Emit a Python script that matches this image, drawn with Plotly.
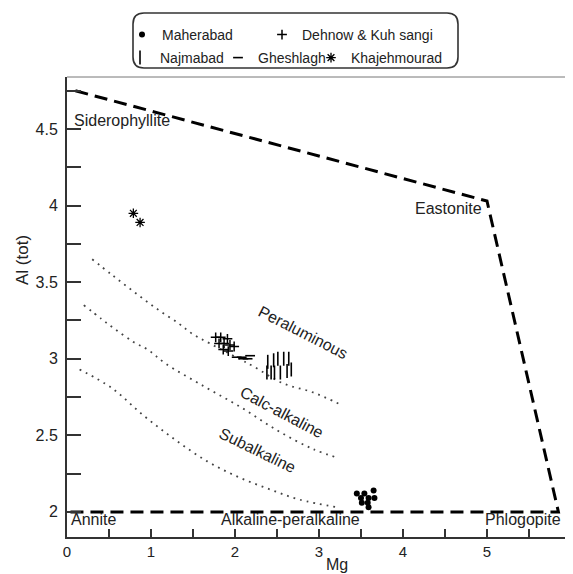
import plotly.graph_objects as go

# ---------------- data ----------------
maherabad_mg = [3.45, 3.54, 3.65, 3.50, 3.59, 3.66, 3.51, 3.58, 3.59]
maherabad_al = [2.12, 2.12, 2.14, 2.09, 2.09, 2.09, 2.06, 2.06, 2.03]

dehnow_mg = [1.77, 1.83, 1.91, 1.81, 1.87, 1.94, 1.99, 1.86, 1.92]
dehnow_al = [3.14, 3.14, 3.13, 3.10, 3.10, 3.09, 3.08, 3.06, 3.05]

najmabad_mg = [2.39, 2.46, 2.51, 2.58, 2.64, 2.38, 2.43, 2.47, 2.54, 2.62, 2.67]
najmabad_al = [2.98, 2.99, 3.00, 3.00, 3.00, 2.91, 2.91, 2.91, 2.91, 2.92, 2.93]

gheshlagh_mg = [2.02, 2.08, 2.10, 2.15, 2.18]
gheshlagh_al = [3.01, 3.01, 3.00, 3.00, 3.02]

khajeh_mg = [0.79, 0.87]
khajeh_al = [3.95, 3.89]

# field boundary (Siderophyllite - Eastonite - Phlogopite - Annite)
boundary_mg = [0.10, 5.00, 5.85, 0.00]
boundary_al = [4.75, 4.03, 2.00, 2.00]

# dotted discrimination curves
curve1_mg = [0.30, 0.53, 0.79, 1.06, 1.33, 1.50, 1.70, 2.05, 2.22, 2.57, 2.93, 3.26]
curve1_al = [3.65, 3.55, 3.44, 3.33, 3.23, 3.16, 3.10, 3.00, 2.95, 2.84, 2.78, 2.70]
curve2_mg = [0.20, 0.41, 0.53, 0.79, 0.96, 1.17, 1.63, 2.08, 2.51, 2.93, 3.24]
curve2_al = [3.35, 3.26, 3.21, 3.11, 3.06, 2.97, 2.82, 2.68, 2.53, 2.41, 2.35]
curve3_mg = [0.15, 0.53, 0.91, 1.29, 1.67, 2.03, 2.40, 2.77, 3.22]
curve3_al = [2.93, 2.81, 2.63, 2.47, 2.33, 2.23, 2.15, 2.08, 2.03]

x_ticks = [0, 1, 2, 3, 4, 5, 6]
y_ticks = [2, 2.5, 3, 3.5, 4, 4.5]
y_tick_text = ["2", "2.5", "3", "3.5", "4", "4.5"]

field_labels = ["Siderophyllite", "Eastonite", "Annite", "Alkaline-peralkaline", "Phlogopite"]
field_mg = [0.06, 4.96, 0.02, 2.66, 5.90]
field_al = [4.555, 3.98, 1.95, 1.95, 1.95]
field_anchor = ["left", "right", "left", "center", "right"]

series_labels = ["Peraluminous", "Calc-alkaline", "Subalkaline"]
series_mg = [2.81, 2.56, 2.27]
series_al = [3.17, 2.65, 2.40]
series_angle = [27, 28, 26]

# ---------------- layout helpers ----------------
# page has an 8px body margin, so the figure is offset by 8px
OFF = 8
W, H = 573 - OFF, 574 - OFF
PL, PR, PT, PB = 67, 571, 77, 537          # plot area in page pixels
ML, MT = PL - OFF, PT - OFF
MR = W - (PR - OFF)
MB = H - (PB - OFF)


def pxx(px):
    return (px - PL) / (PR - PL)


def pxy(py):
    return (PB - py) / (PB - PT)


FONT = "Arial, Liberation Sans, sans-serif"
INK = "#222222"

fig = go.Figure()

# boundary
fig.add_trace(go.Scatter(x=boundary_mg, y=boundary_al, mode="lines",
                         line=dict(color="black", width=3, dash="13px,7px"),
                         showlegend=False, hoverinfo="skip"))
for cx, cy in [(curve1_mg, curve1_al), (curve2_mg, curve2_al), (curve3_mg, curve3_al)]:
    fig.add_trace(go.Scatter(x=cx, y=cy, mode="lines",
                             line=dict(color="#444444", width=1.8, dash="1.8px,5px", shape="spline"),
                             showlegend=False, hoverinfo="skip"))

# data series
fig.add_trace(go.Scatter(x=maherabad_mg, y=maherabad_al, mode="markers", name="Maherabad",
                         marker=dict(symbol="circle", size=6, color="black"), legend="legend"))
fig.add_trace(go.Scatter(x=dehnow_mg, y=dehnow_al, mode="markers", name="Dehnow & Kuh sangi",
                         marker=dict(symbol="cross-thin", size=7, color="black",
                                     line=dict(color="black", width=1.5)), legend="legend2"))
fig.add_trace(go.Scatter(x=najmabad_mg, y=najmabad_al, mode="markers", name="Najmabad",
                         marker=dict(symbol="line-ns", size=10, color="black",
                                     line=dict(color="black", width=1.6)), legend="legend3"))
fig.add_trace(go.Scatter(x=gheshlagh_mg, y=gheshlagh_al, mode="markers", name="Gheshlagh",
                         marker=dict(symbol="line-ew", size=7, color="black",
                                     line=dict(color="black", width=1.6)), legend="legend4"))
fig.add_trace(go.Scatter(x=khajeh_mg, y=khajeh_al, mode="markers", name="Khajehmourad",
                         marker=dict(symbol="asterisk", size=8, color="black",
                                     line=dict(color="black", width=1.3)), legend="legend5"))

annotations = []
for t, x, y, a in zip(field_labels, field_mg, field_al, field_anchor):
    annotations.append(dict(x=x, y=y, text=t, showarrow=False, xanchor=a, yanchor="middle",
                            font=dict(family=FONT, size=16, color=INK)))
for t, x, y, ang in zip(series_labels, series_mg, series_al, series_angle):
    annotations.append(dict(x=x, y=y, text=t, showarrow=False, textangle=ang,
                            xanchor="center", yanchor="middle",
                            font=dict(family=FONT, size=16, color=INK)))
annotations.append(dict(xref="paper", yref="paper", x=pxx(337), y=pxy(564), text="Mg",
                        showarrow=False, xanchor="center", yanchor="middle", borderpad=0,
                        font=dict(family=FONT, size=16, color=INK)))
annotations.append(dict(xref="paper", yref="paper", x=pxx(22), y=pxy(260), text="Al (tot)",
                        showarrow=False, textangle=-90, xanchor="center", yanchor="middle",
                        font=dict(family=FONT, size=17, color=INK)))

# rounded legend frame
x0, x1, y0, y1, r = 133, 458, 13, 68, 11
pts = [("M", (x0 + r, y0)), ("L", (x1 - r, y0)), ("Q", (x1, y0), (x1, y0 + r)),
       ("L", (x1, y1 - r)), ("Q", (x1, y1), (x1 - r, y1)), ("L", (x0 + r, y1)),
       ("Q", (x0, y1), (x0, y1 - r)), ("L", (x0, y0 + r)), ("Q", (x0, y0), (x0 + r, y0))]
path = ""
for p in pts:
    cmd = p[0]
    coords = " ".join(f"{pxx(a):.5f},{pxy(b):.5f}" for a, b in p[1:])
    path += f"{cmd} {coords} "
path += "Z"

shapes = [
    dict(type="path", xref="paper", yref="paper", path=path,
         line=dict(color="#333333", width=1.6)),
    dict(type="line", xref="paper", yref="paper", x0=0, x1=1, y0=1, y1=1,
         line=dict(color="#777777", width=1)),
    dict(type="line", xref="paper", yref="paper", x0=1, x1=1, y0=0, y1=1,
         line=dict(color="#777777", width=1)),
]


def leg(text_left_px, row_py):
    return dict(x=pxx(text_left_px - 40), y=pxy(row_py), xanchor="left", yanchor="middle",
                orientation="h", bgcolor="rgba(0,0,0,0)", borderwidth=0,
                font=dict(family=FONT, size=14, color=INK))


fig.update_layout(
    width=W, height=H, autosize=False,
    margin=dict(l=ML, r=MR, t=MT, b=MB, pad=0),
    paper_bgcolor="white", plot_bgcolor="white",
    showlegend=True,
    legend=leg(162, 35), legend2=leg(302, 35),
    legend3=leg(160, 58), legend4=leg(258, 58), legend5=leg(351, 58),
    annotations=annotations, shapes=shapes,
    xaxis=dict(range=[0, 6], showgrid=False, zeroline=False, showline=True,
               linecolor="#333333", linewidth=2, ticks="inside", ticklen=8, tickwidth=1.5,
               tickcolor="#333333", tickmode="array", tickvals=x_ticks,
               ticklabelstandoff=0,
               minor=dict(dtick=0.5, tick0=0, ticks="inside", ticklen=8, tickwidth=1.5,
                          tickcolor="#333333", showgrid=False),
               tickfont=dict(family=FONT, size=15, color=INK)),
    yaxis=dict(range=[1.836, 4.84], showgrid=False, zeroline=False, showline=True,
               linecolor="#333333", linewidth=2, ticks="inside", ticklen=14, tickwidth=1.5,
               tickcolor="#333333", tickmode="array", tickvals=y_ticks, ticktext=y_tick_text,
               ticklabelstandoff=4,
               minor=dict(dtick=0.25, tick0=0, ticks="inside", ticklen=14, tickwidth=1.5,
                          tickcolor="#333333", showgrid=False),
               tickfont=dict(family=FONT, size=16, color=INK)),
)

fig.write_html("out.html")
